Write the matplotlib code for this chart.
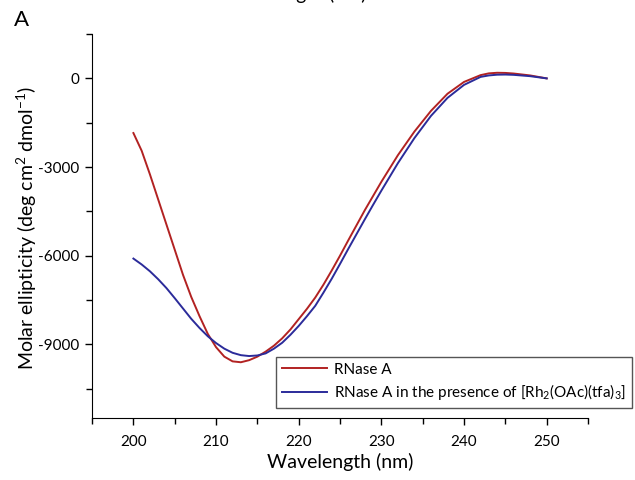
import matplotlib.pyplot as plt
import numpy as np

plt.rcParams['font.family'] = ['Lato', 'DejaVu Sans']
plt.rcParams['mathtext.default'] = 'regular'
plt.rcParams['axes.unicode_minus'] = False

# wavelength (nm) and molar ellipticity
wl = [200, 201, 202, 203, 204, 205, 206, 207, 208, 209, 210, 211, 212, 213, 214,
      215, 216, 217, 218, 219, 220, 221, 222, 223, 224, 225, 226, 227, 228, 229,
      230, 232, 234, 236, 238, 240, 242, 243, 244, 245, 246, 248, 250]
rnase = [-1850, -2450, -3250, -4100, -4950, -5800, -6650, -7400, -8050, -8650,
         -9100, -9420, -9580, -9610, -9540, -9420, -9250, -9050, -8800, -8500,
         -8150, -7800, -7420, -6980, -6500, -6000, -5480, -4970, -4460, -3980,
         -3500, -2600, -1800, -1100, -520, -120, 110, 170, 190, 185, 165, 100, 0]
rnase_rh = [-6100, -6300, -6530, -6800, -7100, -7440, -7790, -8140, -8450, -8730,
            -8960, -9150, -9290, -9370, -9400, -9380, -9310, -9150, -8950, -8680,
            -8380, -8050, -7700, -7250, -6780, -6280, -5770, -5270, -4770, -4280,
            -3800, -2870, -2020, -1270, -660, -220, 50, 100, 125, 130, 120, 75, 0]

fig = plt.figure(figsize=(6.35, 4.8), dpi=100)
ax = fig.add_axes([0.145, 0.129, 0.781, 0.8])

ax.plot(wl, rnase, color="#B22222", lw=1.4, label="RNase A")
ax.plot(wl, rnase_rh, color="#2B2B9A", lw=1.4,
        label="RNase A in the presence of [Rh$_2$(OAc)(tfa)$_3$]")

ax.set_xlim(195, 255)
ax.set_ylim(-11500, 1500)
ax.set_xticks(np.arange(200, 251, 10))
ax.set_xticks(np.arange(195, 256, 5), minor=True)
ax.set_yticks([0, -3000, -6000, -9000])
ax.set_yticks(np.arange(1500, -11000, -1500), minor=True)
ax.tick_params(which='both', direction='out', labelsize=11, width=1)
ax.tick_params(which='major', length=5, pad=4)
ax.tick_params(which='minor', length=4)
ax.tick_params(axis='x', which='major', pad=7)
for s in ['top', 'right']:
    ax.spines[s].set_visible(False)

ax.set_xlabel("Wavelength (nm)", fontsize=14, va='center')
ax.set_ylabel("Molar ellipticity (deg cm$^2$ dmol$^{-1}$)", fontsize=14, va='center')
ax.xaxis.set_label_coords(0.5, -0.115)
ax.yaxis.set_label_coords(-0.131, 0.495)

leg = ax.legend(loc='lower right', bbox_to_anchor=(1.088, 0.026), borderaxespad=0,
                fontsize=11, fancybox=False, edgecolor='#555555', framealpha=1,
                handlelength=2.9, handletextpad=0.45, borderpad=0.4, labelspacing=0.35)
leg.get_frame().set_linewidth(1)

fig.text(14 / 635, 1 - 20 / 480, "A", fontsize=16, ha='left', va='center')
fig.text(293 / 635, 1 + 6 / 480, "Wavelength (nm)", fontsize=14, ha='center', va='center')

fig.savefig("out.png", dpi=100)
